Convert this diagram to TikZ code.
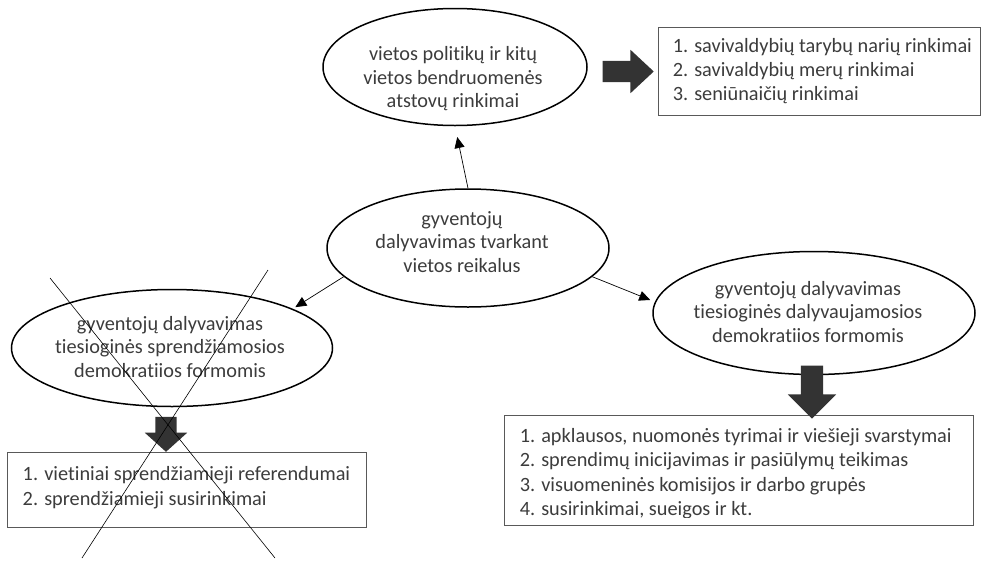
\documentclass[tikz,border=0pt]{standalone}
\usepackage{fontspec}
\setmainfont{Carlito}[Ligatures=NoCommon]
\usetikzlibrary{shapes.geometric,shapes.arrows,arrows.meta}
\definecolor{txtgray}{HTML}{3C3C3C}
\definecolor{fatgray}{HTML}{333333}

\begin{document}
\begin{tikzpicture}[x=1pt, y=-1pt,
  oval/.style={draw, ellipse, line width=1.5pt, inner sep=0pt},
  ovaltext/.style={align=center, text=txtgray, font=\fontsize{20.3}{23.5}\selectfont},
  listbox/.style={draw=black!65, line width=0.9pt, inner sep=0pt},
  listtext/.style={anchor=west, align=left, inner sep=0pt, text=txtgray,
    font=\fontsize{20.3}{24.4}\selectfont},
  link/.style={-{Triangle[length=11pt,width=10pt]}, line width=0.7pt},
  fatarrow/.style={single arrow, fill=fatgray, inner xsep=0pt}]
  \useasboundingbox (0,0) rectangle (986,560);

  % ellipses
  \node[oval, minimum width=264pt, minimum height=117pt] (elect) at (455,67) {};
  \node[ovaltext] (elect-t) at (453,79)
    {vietos politikų ir kitų\\vietos bendruomenės\\atstovų rinkimai};
  \node[oval, minimum width=282pt, minimum height=118pt] (hub) at (468,248) {};
  \node[ovaltext] (hub-t) at (462,242)
    {gyventojų\\dalyvavimas tvarkant\\vietos reikalus};
  \node[oval, minimum width=321pt, minimum height=117pt] (direct) at (172,348) {};
  \begin{scope}
    \clip (0,0) rectangle (986,377);
    \node[ovaltext] (direct-t) at (170,347)
      {gyventojų dalyvavimas\\tiesioginės sprendžiamosios\\demokratiios formomis};
  \end{scope}
  \node[oval, minimum width=322pt, minimum height=123pt] (partic) at (814,313) {};
  \node[ovaltext] (partic-t) at (808,312)
    {gyventojų dalyvavimas\\tiesioginės dalyvaujamosios\\demokratiios formomis};

  % lists
  \node[listbox, minimum width=322pt, minimum height=88pt] (electlist) at (819,71) {};
  \node[listtext] (electlist-t) at ([xshift=15pt]electlist.west)
    {1. savivaldybių tarybų narių rinkimai\\2. savivaldybių merų rinkimai\\3. seniūnaičių rinkimai};
  \node[listbox, minimum width=359pt, minimum height=75pt] (directlist) at (186.5,489.5) {};
  \node[listtext] (directlist-t) at ([xshift=16pt,yshift=2pt]directlist.west)
    {1. vietiniai sprendžiamieji referendumai\\2. sprendžiamieji susirinkimai};
  \node[listbox, minimum width=469pt, minimum height=110pt] (particlist) at (738.5,470) {};
  \begin{scope}
    \clip (0,0) rectangle (986,517);
    \node[listtext] (particlist-t) at ([xshift=16pt,yshift=-3.5pt]particlist.west)
      {1. apklausos, nuomonės tyrimai ir viešieji svarstymai\\2. sprendimų inicijavimas ir pasiūlymų teikimas\\3. visuomeninės komisijos ir darbo grupės\\4. susirinkimai, sueigos ir kt.};
  \end{scope}

  % thin arrows
  \draw[link, shorten >=11pt] (hub.north) -- (elect.south);
  \draw[link, shorten >=3pt] (hub.193) -- (direct.18);
  \draw[link, shorten >=5pt] (hub.-13) -- (partic.176);

  % block arrows
  \node[fatarrow, inner ysep=10.5pt, minimum height=51pt, single arrow head extend=11pt,
    single arrow tip angle=86] (elect-to-list) at (622.5,71.5) {};
  \node[fatarrow, rotate=-90, inner ysep=10.5pt, minimum height=35pt,
    single arrow head extend=10.5pt, single arrow tip angle=96] (direct-to-list) at (166,429.5) {};
  \node[fatarrow, rotate=-90, inner ysep=11pt, minimum height=53pt,
    single arrow head extend=13pt, single arrow tip angle=90] (partic-to-list) at (812,386.5) {};

  % crossed out
  \draw[line width=0.6pt] (50,278) -- (275,558);
  \draw[line width=0.6pt] (268,270) -- (82,558);
\end{tikzpicture}
\end{document}
